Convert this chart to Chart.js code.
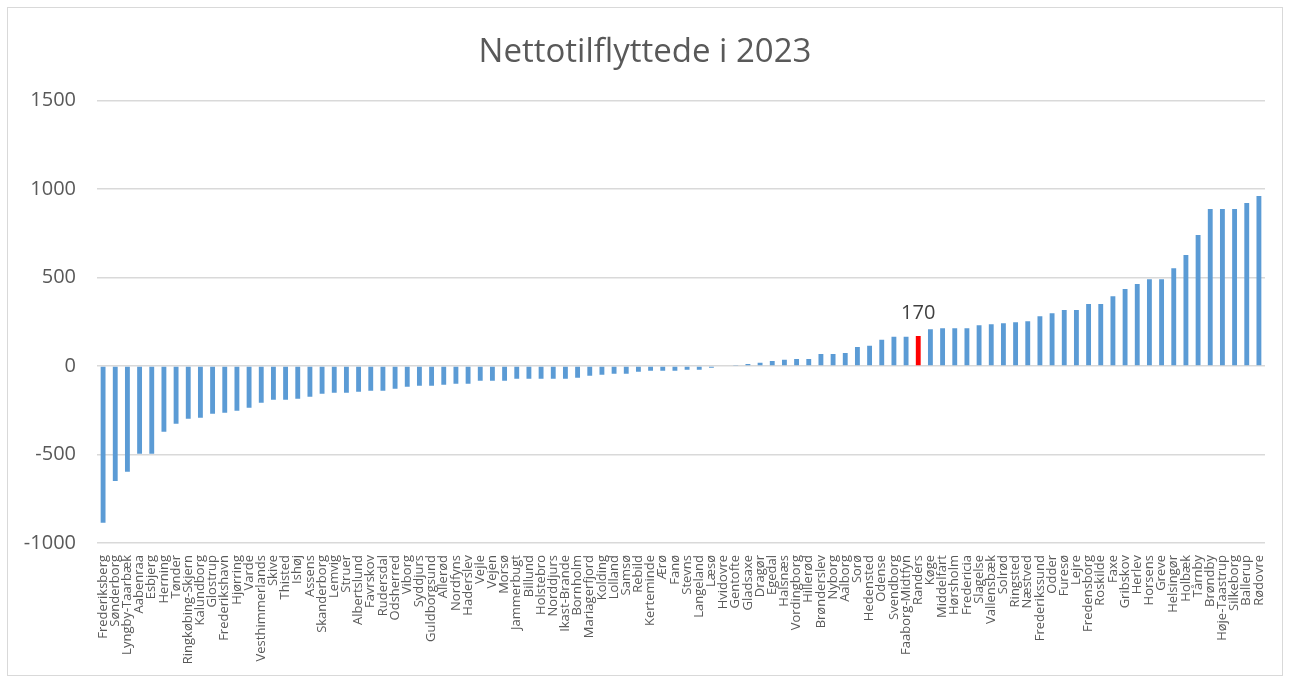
<!DOCTYPE html>
<html>
<head>
<meta charset="utf-8">
<script src="https://cdn.jsdelivr.net/npm/chart.js@4.4.1/dist/chart.umd.min.js"></script>
<style>
  html, body { margin:0; padding:0; background:#fff; }
  #frame { position:absolute; left:7px; top:7px; width:1274px; height:667px; border:1px solid #d9d9d9; }
  #frame canvas { display:block; }
</style>
</head>
<body>
<div id="frame"><canvas id="chart" width="1274" height="667"></canvas></div>
<script>
// Nettotilflyttede i 2023
const categories = [
  'Frederiksberg','Sønderborg','Lyngby-Taarbæk','Aabenraa','Esbjerg','Herning','Tønder','Ringkøbing-Skjern',
  'Kalundborg','Glostrup','Frederikshavn','Hjørring','Varde','Vesthimmerlands','Skive','Thisted','Ishøj',
  'Assens','Skanderborg','Lemvig','Struer','Albertslund','Favrskov','Rudersdal','Odsherred','Viborg',
  'Syddjurs','Guldborgsund','Allerød','Nordfyns','Haderslev','Vejle','Vejen','Morsø','Jammerbugt','Billund',
  'Holstebro','Norddjurs','Ikast-Brande','Bornholm','Mariagerfjord','Kolding','Lolland','Samsø','Rebild',
  'Kerteminde','Ærø','Fanø','Stevns','Langeland','Læsø','Hvidovre','Gentofte','Gladsaxe','Dragør','Egedal',
  'Halsnæs','Vordingborg','Hillerød','Brønderslev','Nyborg','Aalborg','Sorø','Hedensted','Odense',
  'Svendborg','Faaborg-Midtfyn','Randers','Køge','Middelfart','Hørsholm','Fredericia','Slagelse',
  'Vallensbæk','Solrød','Ringsted','Næstved','Frederikssund','Odder','Furesø','Lejre','Fredensborg',
  'Roskilde','Faxe','Gribskov','Herlev','Horsens','Greve','Helsingør','Holbæk','Tårnby','Brøndby',
  'Høje-Taastrup','Silkeborg','Ballerup','Rødovre'
];
const netMigration = [
  -886,-649,-598,-496,-496,-372,-326,-298,
  -292,-270,-264,-253,-236,-208,-191,-191,-185,
  -174,-157,-151,-151,-145,-140,-140,-128,-117,
  -111,-111,-106,-100,-100,-83,-83,-83,-72,-72,
  -72,-72,-72,-66,-55,-49,-44,-44,-32,
  -27,-27,-27,-21,-21,-10,0,3,12,18,29,
  35,40,40,68,68,74,108,114,148,
  165,165,170,208,214,214,214,231,
  236,242,248,253,282,299,316,316,350,
  350,395,435,463,491,491,553,627,740,888,
  888,888,922,961
];
const highlight = 'Randers';
const yTicks = [-1000, -500, 0, 500, 1000, 1500];

const blue = '#5b9bd5';
const red = '#ff0000';
const textGray = '#595959';

// label only the highlighted bar
const highlightLabel = {
  id:'highlightLabel',
  afterDatasetsDraw(chart){
    const idx = categories.indexOf(highlight);
    const bar = chart.getDatasetMeta(0).data[idx];
    if(!bar) return;
    const ctx = chart.ctx;
    ctx.save();
    ctx.font = '20px "Open Sans", sans-serif';
    ctx.fillStyle = '#404040';
    ctx.textAlign = 'center';
    ctx.textBaseline = 'bottom';
    ctx.fillText(String(netMigration[idx]), bar.x, bar.y - 13);
    ctx.restore();
  }
};

new Chart(document.getElementById('chart'), {
  type:'bar',
  data:{
    labels: categories,
    datasets:[{
      data: netMigration,
      backgroundColor: categories.map(c => c === highlight ? red : blue),
      barPercentage: 0.4,
      categoryPercentage: 1
    }]
  },
  options:{
    responsive:false,
    animation:false,
    layout:{ padding:0 },
    plugins:{
      legend:{ display:false },
      tooltip:{ enabled:false },
      title:{
        display:true,
        text:'Nettotilflyttede i 2023',
        color:textGray,
        font:{ family:'"Open Sans", sans-serif', size:33, weight:'normal' },
        padding:{ top:25, bottom:28 }
      }
    },
    scales:{
      x:{
        grid:{ display:false },
        border:{ display:false },
        ticks:{
          autoSkip:false, minRotation:90, maxRotation:90, padding:4,
          color:textGray, font:{ family:'"Open Sans", sans-serif', size:13 }
        },
        afterFit(scale){ scale.height = 132; }
      },
      y:{
        min:-1000, max:1500,
        afterBuildTicks(scale){ scale.ticks = yTicks.map(v => ({ value:v })); },
        grid:{ color:'#d9d9d9', lineWidth:1.5, drawTicks:false },
        border:{ display:false },
        ticks:{
          padding:21, color:textGray,
          font:{ family:'"Open Sans", sans-serif', size:20 },
          callback:(v) => String(v)
        },
        afterFit(scale){ scale.width = 89; }
      },
      // empty right-hand spacer so the title stays centred on the whole canvas
      yRight:{
        position:'right',
        display:true,
        grid:{ display:false },
        border:{ display:false },
        ticks:{ display:false },
        afterFit(scale){ scale.width = 17; }
      }
    }
  },
  plugins:[highlightLabel]
});
</script>
</body>
</html>
